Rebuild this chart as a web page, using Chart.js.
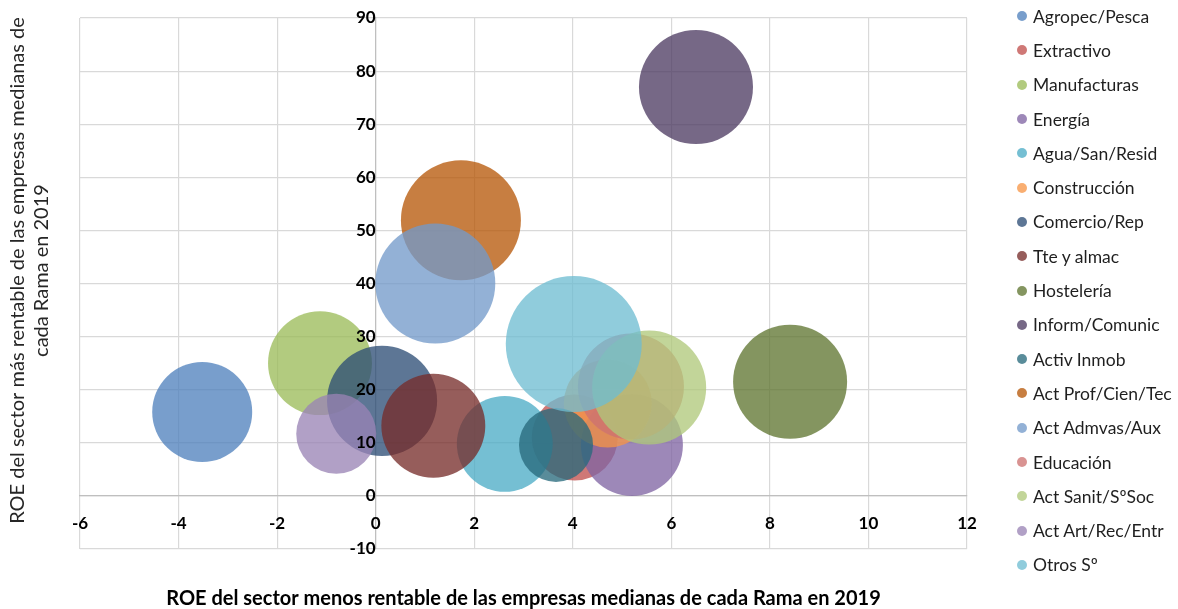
<!DOCTYPE html>
<html lang="es">
<head>
<meta charset="utf-8">
<title>ROE por Rama 2019</title>
<script src="https://cdn.jsdelivr.net/npm/chart.js@4.4.1/dist/chart.umd.min.js"></script>
<style>
  html, body { margin: 0; padding: 0; background: #fff; }
  #caja { position: relative; width: 1178px; height: 609px; }
  #leyenda {
    position: absolute; left: 1017px; top: -1px; margin: 0; padding: 0;
    list-style: none; font-family: Lato, sans-serif; font-size: 17.5px; color: #1f1f1f;
  }
  #leyenda li { height: 34.3px; display: flex; align-items: center; white-space: nowrap; }
  #leyenda span { width: 10px; height: 10px; border-radius: 50%; margin-right: 6px; flex: none; }
</style>
</head>
<body>
<div id="caja">
  <canvas id="graficoBurbujas"></canvas>
  <ul id="leyenda"></ul>
</div>
<script>
// Datos: ROE del sector menos rentable (x), más rentable (y) y tamaño de la burbuja
const categorias = ['Agropec/Pesca', 'Extractivo', 'Manufacturas', 'Energía', 'Agua/San/Resid',
  'Construcción', 'Comercio/Rep', 'Tte y almac', 'Hostelería', 'Inform/Comunic', 'Activ Inmob',
  'Act Prof/Cien/Tec', 'Act Admvas/Aux', 'Educación', 'Act Sanit/SºSoc', 'Act Art/Rec/Entr', 'Otros Sº'];
const roeMenos = [-3.52, 4.04, -1.13, 5.2, 2.62, 4.71, 0.13, 1.17, 8.41, 6.5, 3.66, 1.73, 1.21, 5.18, 5.55, -0.8, 4.02];
const roeMas = [15.8, 11, 25, 9.6, 9.8, 17.4, 17.9, 13.2, 21.5, 77, 9.6, 51.9, 40, 20.6, 20.4, 11.7, 28.6];
const tamano = [25, 18.5, 27, 26, 23, 19.4, 30.3, 27, 32.5, 32.5, 13.7, 36, 36, 28.1, 32.5, 16, 46.2];
const ticksX = [-6, -4, -2, 0, 2, 4, 6, 8, 10, 12];
const ticksY = [-10, 0, 10, 20, 30, 40, 50, 60, 70, 80, 90];
const tituloY = ['ROE del sector más rentable de las empresas medianas de', 'cada Rama en 2019'];

// colores de Excel (con transparencia)
const colores = ['79,129,189', '192,80,77', '155,187,89', '128,100,162', '75,172,198', '247,150,70',
  '44,77,117', '119,44,42', '95,117,48', '77,59,98', '39,106,124', '182,87,8',
  '114,154,202', '205,115,113', '175,201,122', '153,131,181', '111,189,209'].map(c => 'rgba(' + c + ',0.77)');

Chart.defaults.font.family = 'Lato, sans-serif';

// titulo del eje Y, girado, un poco por encima del centro como en Excel
const ejeYTitulo = {
  id: 'ejeYTitulo',
  afterDraw(chart) {
    const c = chart.ctx;
    const yc = (chart.chartArea.top + chart.chartArea.bottom) / 2 - 13;
    c.save();
    c.font = '20px Lato, sans-serif';
    c.fillStyle = '#262626';
    c.textAlign = 'center';
    c.textBaseline = 'middle';
    tituloY.forEach((linea, i) => {
      c.save();
      c.translate(18 + i * 24, yc);
      c.rotate(-Math.PI / 2);
      c.fillText(linea, 0, 0);
      c.restore();
    });
    c.restore();
  }
};

const ctx = document.getElementById('graficoBurbujas').getContext('2d');
const graficoBurbujas = new Chart(ctx, {
  type: 'bubble',
  data: {
    datasets: categorias.map((nombre, i) => ({
      label: nombre,
      data: [{ x: roeMenos[i], y: roeMas[i], r: Math.sqrt(tamano[i]) * 10 }],
      backgroundColor: colores[i],
      borderWidth: 0,
      order: -i
    }))
  },
  plugins: [ejeYTitulo],
  options: {
    responsive: true,
    maintainAspectRatio: false,
    animation: false,
    events: [],
    layout: { autoPadding: false, padding: { top: 18, right: 211, left: 80, bottom: 0 } },
    scales: {
      x: {
        type: 'linear',
        min: -6, max: 12,
        position: { y: 0 },
        afterBuildTicks: s => { s.ticks = ticksX.map(v => ({ value: v })) },
        grid: { color: '#d9d9d9', lineWidth: 1.2, tickLength: 17, tickColor: 'rgba(0,0,0,0)' },
        border: { color: '#bfbfbf', width: 1.2 },
        ticks: { z: 1, padding: 0, color: '#000', font: { size: 17, weight: 'bold' } }
      },
      y: {
        type: 'linear',
        min: -10, max: 90,
        position: { x: 0 },
        afterBuildTicks: s => { s.ticks = ticksY.map(v => ({ value: v })) },
        grid: { color: '#d9d9d9', lineWidth: 1.2, tickLength: 17, tickColor: 'rgba(0,0,0,0)' },
        border: { color: '#bfbfbf', width: 1.2 },
        ticks: { z: 1, padding: 0, color: '#000', font: { size: 17, weight: 'bold' } }
      }
    },
    plugins: {
      legend: { display: false },
      tooltip: { enabled: false },
      title: {
        display: true,
        position: 'bottom',
        fullSize: false,
        text: 'ROE del sector menos rentable de las empresas medianas de cada Rama en 2019',
        color: '#000',
        font: { size: 20, weight: 'bold', lineHeight: 1 },
        padding: { top: 40, bottom: 0 }
      }
    }
  }
});

// Leyenda
const leyenda = document.getElementById('leyenda');
categorias.forEach((nombre, i) => {
  const li = document.createElement('li');
  const punto = document.createElement('span');
  punto.style.background = colores[i];
  li.appendChild(punto);
  li.appendChild(document.createTextNode(nombre));
  leyenda.appendChild(li);
});
</script>
</body>
</html>
